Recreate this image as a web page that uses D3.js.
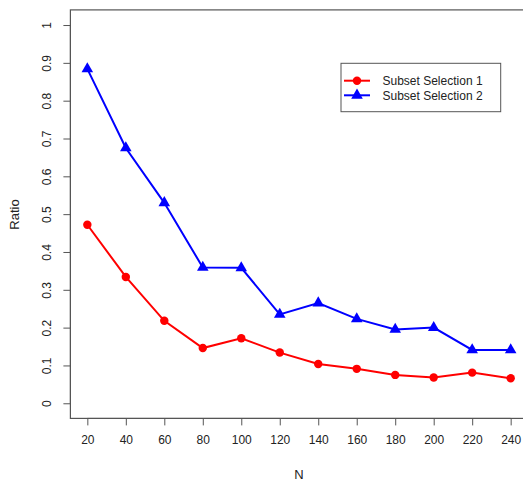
<!DOCTYPE html>
<html><head><meta charset="utf-8">
<script src="https://cdn.jsdelivr.net/npm/d3@7"></script>
<style>body{margin:0;background:#fff}svg{display:block}text{font-family:"Liberation Sans",Arial,Helvetica,sans-serif;fill:#222}</style>
</head><body><div id="chart"></div>
<script>
const nValues = [20,40,60,80,100,120,140,160,180,200,220,240];
const series1 = [0.472,0.334,0.218,0.146,0.172,0.134,0.104,0.091,0.075,0.068,0.081,0.066];
const series2 = [0.884,0.675,0.530,0.359,0.358,0.235,0.265,0.223,0.195,0.200,0.141,0.141];
const seriesNames = ["Subset Selection 1","Subset Selection 2"];
const yTicks = [0,0.1,0.2,0.3,0.4,0.5,0.6,0.7,0.8,0.9,1];

const W=523,H=482;
const svg=d3.select("#chart").append("svg").attr("width",W).attr("height",H);
const x=d3.scaleLinear().domain([11.2,248.8]).range([70.4,527.6]);
const y=d3.scaleLinear().domain([-0.04,1.04]).range([418.4,9.9]);
const axisCol="#555";

// box
svg.append("rect").attr("x",70.4).attr("y",9.9).attr("width",527.6-70.4).attr("height",418.4-9.9)
  .attr("fill","none").attr("stroke",axisCol).attr("stroke-width",1.2);

// y axis
const ya=svg.append("g").attr("transform","translate(70.4,0)")
  .call(d3.axisLeft(y).tickValues(yTicks).tickSize(7).tickPadding(0).tickFormat(d3.format("")));
ya.select(".domain").attr("stroke",axisCol).attr("d",`M0,${y(0)}V${y(1)}`);
ya.selectAll(".tick line").attr("stroke",axisCol);
ya.selectAll(".tick text").attr("x",null).attr("dy",null)
  .attr("transform","translate(-24,0) rotate(-90)").attr("text-anchor","middle").attr("dy","0.35em")
  .style("font-size","12px").attr("fill","#222");

// x axis
const xa=svg.append("g").attr("transform","translate(0,418.4)")
  .call(d3.axisBottom(x).tickValues(nValues).tickSize(7).tickPadding(10));
xa.select(".domain").attr("stroke",axisCol).attr("d",`M${x(20)},0H${x(240)}`);
xa.selectAll(".tick line").attr("stroke",axisCol);
xa.selectAll(".tick text").style("font-size","12px").attr("fill","#222");

// labels
svg.append("text").attr("x",299).attr("y",479).attr("text-anchor","middle").style("font-size","13px").text("N");
svg.append("text").attr("transform","translate(19,214.5) rotate(-90)").attr("text-anchor","middle").style("font-size","13px").text("Ratio");

const line=d3.line().x((d,i)=>x(nValues[i])).y(d=>y(d));
svg.append("path").datum(series1).attr("d",line).attr("fill","none").attr("stroke","#ff0000").attr("stroke-width",2);
svg.append("path").datum(series2).attr("d",line).attr("fill","none").attr("stroke","#0000ff").attr("stroke-width",2);
const circ=d3.symbol().type(d3.symbolCircle).size(56);
const tri=d3.symbol().type(d3.symbolTriangle).size(58);
svg.selectAll(".p1").data(series1).enter().append("path")
  .attr("transform",(d,i)=>`translate(${x(nValues[i])},${y(d)})`).attr("d",circ).attr("fill","#ff0000");
svg.selectAll(".p2").data(series2).enter().append("path")
  .attr("transform",(d,i)=>`translate(${x(nValues[i])},${y(d)})`).attr("d",tri).attr("fill","#0000ff");

// legend
const lg=svg.append("g");
lg.append("rect").attr("x",341).attr("y",63.3).attr("width",159.7).attr("height",48.4)
  .attr("fill","#fff").attr("stroke",axisCol).attr("stroke-width",1);
const cols=["#ff0000","#0000ff"], ly=[80.7,95.3];
seriesNames.forEach((n,i)=>{
  lg.append("line").attr("x1",344).attr("x2",370).attr("y1",ly[i]).attr("y2",ly[i]).attr("stroke",cols[i]).attr("stroke-width",2);
  lg.append("path").attr("transform",`translate(357,${ly[i]})`).attr("d",i?tri:circ).attr("fill",cols[i]);
  lg.append("text").attr("x",382.5).attr("y",ly[i]).attr("dy","0.35em").style("font-size","12px").text(n);
});
</script></body></html>
